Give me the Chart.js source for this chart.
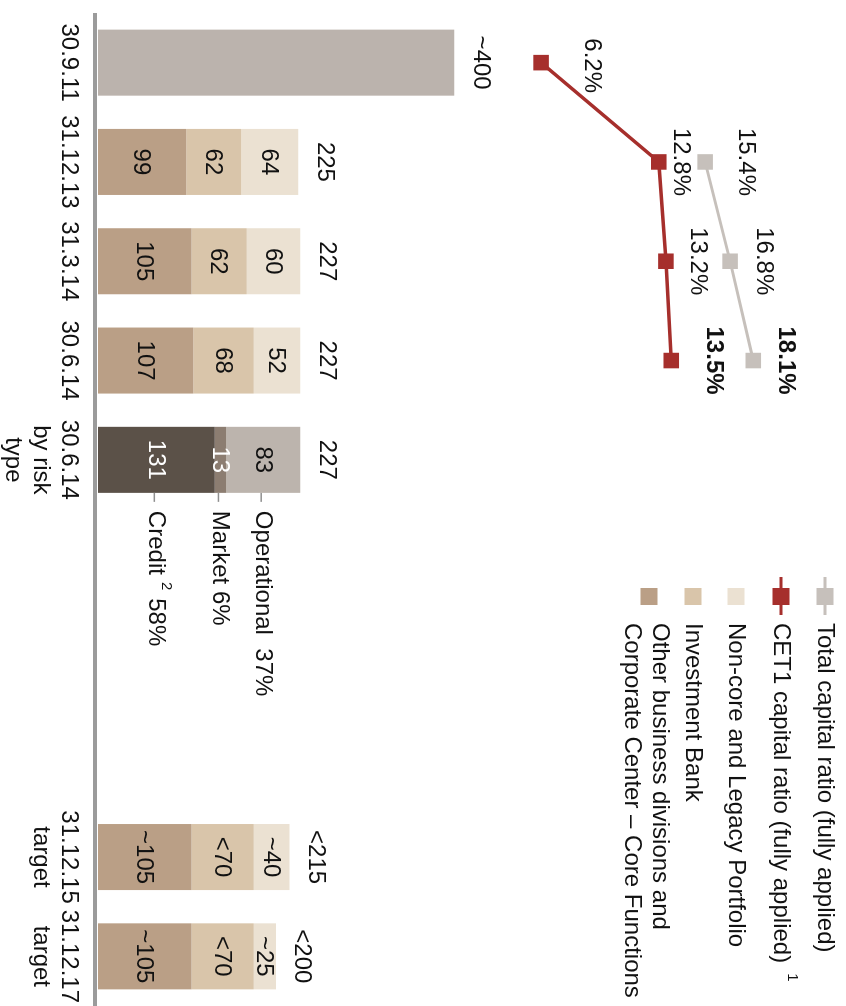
<!DOCTYPE html>
<html>
<head>
<meta charset="utf-8">
<script src="https://cdn.jsdelivr.net/npm/chart.js@4.4.1/dist/chart.umd.min.js"></script>
<style>
  html, body { margin: 0; padding: 0; background: #fff; overflow: hidden; }
  /* chart is laid out landscape and turned a quarter clockwise */
  #wrap {
    position: absolute; left: 846px; top: 0;
    width: 1006px; height: 846px;
    transform-origin: 0 0; transform: rotate(90deg);
  }
</style>
</head>
<body>
<div id="wrap"><canvas id="rwa" width="1006" height="846"></canvas></div>
<script>
// RWA in CHF bn, capital ratios in %
const periods = [
  ["30.9.11"], ["31.12.13"], ["31.3.14"], ["30.6.14"], ["30.6.14", "by risk", "type"],
  "", "", "",
  ["31.12.15", "target"], ["31.12.17", "target"],
];
const rwaBasel3 = [400, null, null, null, null, null, null, null, null, null];
const coreFunctions = [null, 99, 105, 107, null, null, null, null, 105, 105];
const investmentBank = [null, 62, 62, 68, null, null, null, null, 70, 70];
const nonCoreLegacy = [null, 64, 60, 52, null, null, null, null, 40, 25];
const creditRisk = [null, null, null, null, 131, null, null, null, null, null];
const marketRisk = [null, null, null, null, 13, null, null, null, null, null];
const operationalRisk = [null, null, null, null, 83, null, null, null, null, null];
const cet1Ratio = [6.2, 12.8, 13.2, 13.5, null, null, null, null, null, null];
const totalCapitalRatio = [null, 15.4, 16.8, 18.1, null, null, null, null, null, null];

// approximate / upper-bound markers printed in front of values
const totalPrefix = ["~", "", "", "", "", "", "", "", "<", "<"];
const corePrefix = ["", "", "", "", "", "", "", "", "~", "~"];
const ibPrefix = ["", "", "", "", "", "", "", "", "<", "<"];
const nonCorePrefix = ["", "", "", "", "", "", "", "", "~", "~"];

const FONT = "'Liberation Sans', Arial, Helvetica, sans-serif";
const C = {
  core: "#ba9f86",
  ib: "#d9c5aa",
  nonCore: "#ebe1d2",
  old: "#bbb3ad",
  credit: "#5b5148",
  market: "#8c7d71",
  operational: "#bcb4ad",
  cet1: "#a62f2c",
  total: "#c6c0bb",
  axis: "#9b9b9b",
};

function barSet(label, data, color, extra) {
  return Object.assign({
    type: "bar", label, data, backgroundColor: color, stack: "rwa",
    barPercentage: 0.665, categoryPercentage: 1, labelColor: "#111",
  }, extra);
}

function lineSet(label, data, color, width) {
  return {
    type: "line", label, data, yAxisID: "y2",
    borderColor: color, backgroundColor: color, borderWidth: width,
    pointStyle: "rect", pointRadius: 11, pointBorderWidth: 0,
    pointBackgroundColor: color, spanGaps: false,
  };
}

const datasets = [
  lineSet("Total capital ratio (fully applied)", totalCapitalRatio, C.total, 3),
  lineSet("CET1 capital ratio (fully applied)", cet1Ratio, C.cet1, 3.5),
  barSet("RWA", rwaBasel3, C.old, { noValue: true }),
  barSet("Other business divisions and Corporate Center – Core Functions", coreFunctions, C.core, { prefix: corePrefix }),
  barSet("Investment Bank", investmentBank, C.ib, { prefix: ibPrefix }),
  barSet("Non-core and Legacy Portfolio", nonCoreLegacy, C.nonCore, { prefix: nonCorePrefix }),
  barSet("Credit", creditRisk, C.credit, { labelColor: "#fff", risk: "credit" }),
  barSet("Market", marketRisk, C.market, { labelColor: "#fff", risk: "market" }),
  barSet("Operational", operationalRisk, C.operational, { risk: "operational" }),
];

// how far each ratio label sits above its point (keeps the two series' labels apart)
const cet1Lift = [51, 22, 32, 42];
const totalLift = [0, 40, 34, 32];

const legendRows = [
  { kind: "line", color: C.total, lines: ["Total capital ratio (fully applied)"], y: 21 },
  { kind: "line", color: C.cet1, lines: ["CET1 capital ratio (fully applied)"], sup: "1", y: 65 },
  { kind: "box", color: C.nonCore, lines: ["Non-core and Legacy Portfolio"], y: 110 },
  { kind: "box", color: C.ib, lines: ["Investment Bank"], y: 153 },
  { kind: "box", color: C.core, lines: ["Other business divisions and", "Corporate Center – Core Functions"], y: 186 },
];

const overlay = {
  id: "overlay",
  afterDatasetsDraw(chart) {
    const ctx = chart.ctx;
    const area = chart.chartArea;
    const xs = chart.scales.x, ys = chart.scales.y;
    ctx.save();

    // baseline axis
    ctx.fillStyle = C.axis;
    ctx.fillRect(area.left, area.bottom + 1, 1006 - area.left, 4);

    ctx.font = `24px ${FONT}`;
    ctx.textAlign = "center";
    ctx.textBaseline = "middle";

    // values inside the stacked segments
    const totals = periods.map(() => 0);
    chart.data.datasets.forEach((ds, di) => {
      if (ds.type !== "bar") return;
      const meta = chart.getDatasetMeta(di);
      ds.data.forEach((v, i) => {
        if (v == null) return;
        totals[i] += v;
        if (ds.noValue) return;
        const bar = meta.data[i];
        ctx.fillStyle = ds.labelColor;
        ctx.fillText((ds.prefix ? ds.prefix[i] : "") + v, bar.x, (bar.y + bar.base) / 2 + 1);
      });
    });

    // totals above each bar
    ctx.fillStyle = "#111";
    totals.forEach((t, i) => {
      if (!t) return;
      ctx.fillText(totalPrefix[i] + t, xs.getPixelForValue(i), ys.getPixelForValue(t) - 26);
    });

    // ratio labels
    [[0, totalCapitalRatio, totalLift], [1, cet1Ratio, cet1Lift]].forEach(([di, vals, lift]) => {
      const pts = chart.getDatasetMeta(di).data;
      const last = vals.reduce((acc, v, i) => (v != null ? i : acc), -1);
      vals.forEach((v, i) => {
        if (v == null) return;
        ctx.font = `${i === last ? "bold " : ""}24px ${FONT}`;
        ctx.fillStyle = "#111";
        ctx.fillText(v.toFixed(1) + "%", pts[i].x + (i === 0 && di === 1 ? 3 : 0), pts[i].y - lift[i]);
      });
    });

    // risk-type breakdown callouts
    const riskTotal = totals[4];
    ctx.font = `24px ${FONT}`;
    ctx.textAlign = "left";
    chart.data.datasets.forEach((ds, di) => {
      if (!ds.risk) return;
      const bar = chart.getDatasetMeta(di).data[4];
      const v = ds.data[4];
      const cy = (bar.y + bar.base) / 2;
      const edge = bar.x + bar.width / 2;
      const pct = Math.round(v / riskTotal * 100) + "%";
      ctx.strokeStyle = "#8f8f8f";
      ctx.lineWidth = 1.5;
      ctx.beginPath();
      ctx.moveTo(edge, cy + 2);
      ctx.lineTo(edge + 9, cy + 2);
      ctx.stroke();
      ctx.fillStyle = "#111";
      let tx = edge + 18;
      if (ds.risk === "credit") {
        ctx.fillText("Credit", tx, cy + 1);
        tx += ctx.measureText("Credit").width + 7;
        ctx.font = `15px ${FONT}`;
        ctx.fillText("2", tx, cy - 10);
        tx += ctx.measureText("2").width + 8;
        ctx.font = `24px ${FONT}`;
        ctx.fillText(pct, tx, cy + 1);
      } else if (ds.risk === "market") {
        ctx.fillText("Market " + pct, tx, cy + 1);
      } else {
        ctx.fillText("Operational  " + pct, tx, cy + 1);
      }
    });

    // legend
    legendRows.forEach(row => {
      const my = row.lines.length > 1 ? row.y + 11 : row.y;
      ctx.fillStyle = row.color;
      if (row.kind === "line") {
        ctx.fillRect(577, my - 1.5, 38, 3);
      }
      ctx.fillRect(588, my - 8.5, 17, 17);
      ctx.fillStyle = "#111";
      ctx.font = `24px ${FONT}`;
      row.lines.forEach((t, k) => {
        ctx.fillText(t, 623, row.y + k * 28);
        if (row.sup && k === row.lines.length - 1) {
          const w = ctx.measureText(t).width;
          ctx.font = `15px ${FONT}`;
          ctx.fillText(row.sup, 623 + w + 10, row.y - 11);
          ctx.font = `24px ${FONT}`;
        }
      });
    });

    ctx.restore();
  },
};

new Chart(document.getElementById("rwa"), {
  data: { labels: periods, datasets },
  options: {
    responsive: false,
    animation: false,
    events: [],
    layout: { autoPadding: false, padding: { left: 13, right: 0, top: 0, bottom: 0 } },
    plugins: { legend: { display: false }, tooltip: { enabled: false } },
    scales: {
      x: {
        stacked: true,
        grid: { display: false, drawTicks: false },
        border: { display: false },
        ticks: {
          color: "#111",
          font: { family: FONT, size: 24, lineHeight: 1.15 },
          padding: 16,
          maxRotation: 0,
          minRotation: 0,
          autoSkip: false,
        },
        afterFit(scale) {
          scale.height = 98;
          scale.paddingLeft = 0;
          scale.paddingRight = 0;
        },
      },
      y: { stacked: true, display: false, min: 0, max: 840 },
      y2: { display: false, min: -18.65, max: 23.3 },
    },
  },
  plugins: [overlay],
});
</script>
</body>
</html>
